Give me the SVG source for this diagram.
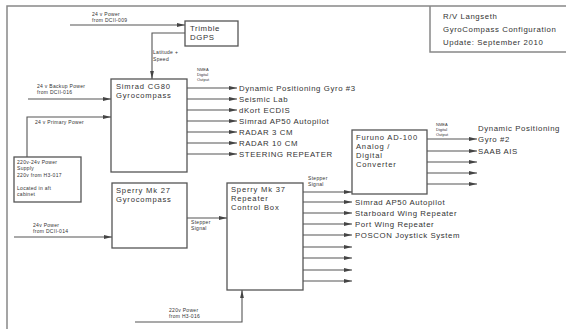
<svg xmlns="http://www.w3.org/2000/svg" width="566" height="329" viewBox="0 0 566 329">
<defs>
<marker id="ah" viewBox="0 0 8 5" refX="8" refY="2.5" markerWidth="8" markerHeight="5" orient="auto" markerUnits="userSpaceOnUse"><path d="M0,0.6 L8,2.5 L0,4.4 z" fill="#444"/></marker>
<style>
.box{fill:#fff;stroke:#555;stroke-width:1.3}
.ln{fill:none;stroke:#555;stroke-width:1.1}
.ar{fill:none;stroke:#555;stroke-width:1.1;marker-end:url(#ah)}
text{font-family:"Liberation Sans",Arial,sans-serif;fill:#333}
.t{font-size:7.6px;letter-spacing:0.8px}
.o{font-size:7.8px;letter-spacing:0.6px}
.s{font-size:5px;letter-spacing:0.3px}
.xs{font-size:4px}
.frame{fill:none;stroke:#888;stroke-width:1.5}
</style>
</defs>
<rect width="566" height="329" fill="#fff"/>
<g id="frame">
<path class="frame" d="M7,329 V6 H566"/>
</g>
<g id="title">
<path class="frame" d="M430,6 V52 H566"/>
<text class="o" x="443" y="19">R/V Langseth</text>
<text class="o" x="443" y="32">GyroCompass Configuration</text>
<text class="o" x="443" y="45">Update: September 2010</text>
</g>
<g id="connectors">
<path class="ar" d="M70,25 H185"/>
<path class="ar" d="M185,33 H152 V79"/>
<path class="ar" d="M28,99 H111"/>
<path class="ar" d="M27,157 V117 H111"/>
<path class="ar" d="M187,88 H237"/>
<path class="ar" d="M187,99 H237"/>
<path class="ar" d="M187,110 H237"/>
<path class="ar" d="M187,121 H237"/>
<path class="ar" d="M187,132 H237"/>
<path class="ar" d="M187,143 H237"/>
<path class="ar" d="M187,154 H237"/>
<path class="ar" d="M14,237 H112"/>
<path class="ar" d="M187,218 H227"/>
<path class="ar" d="M303,192 H352"/>
<path class="ar" d="M303,202 H352"/>
<path class="ar" d="M303,213 H352"/>
<path class="ar" d="M303,224 H352"/>
<path class="ar" d="M303,235 H352"/>
<path class="ar" d="M303,247 H352"/>
<path class="ar" d="M303,258 H352"/>
<path class="ar" d="M303,270 H352"/>
<path class="ar" d="M303,281 H352"/>
<path class="ar" d="M427,139 H477"/>
<path class="ar" d="M427,151 H477"/>
<path class="ar" d="M427,162 H477"/>
<path class="ar" d="M427,173 H477"/>
<path class="ar" d="M427,184 H477"/>
<path class="ar" d="M135,322 H242 V290"/>
<text class="s" x="92" y="16">24 v Power</text>
<text class="s" x="92" y="22">from DCII-009</text>
<text class="s" x="153" y="54">Latitude +</text>
<text class="s" x="153" y="61">Speed</text>
<text class="s" x="37" y="88">24 v Backup Power</text>
<text class="s" x="37" y="94">from DCII-016</text>
<text class="s" x="35" y="124">24 v Primary Power</text>
<text class="xs" x="197" y="71">NMEA</text>
<text class="xs" x="197" y="76">Digital</text>
<text class="xs" x="197" y="81">Output</text>
<text class="o" x="239" y="91">Dynamic Positioning Gyro #3</text>
<text class="o" x="239" y="102">Seismic Lab</text>
<text class="o" x="239" y="113">dKort ECDIS</text>
<text class="o" x="239" y="124">Simrad AP50 Autopilot</text>
<text class="o" x="239" y="135">RADAR 3 CM</text>
<text class="o" x="239" y="146">RADAR 10 CM</text>
<text class="o" x="239" y="157">STEERING REPEATER</text>
<text class="s" x="33" y="227">24v Power</text>
<text class="s" x="33" y="233">from DCII-014</text>
<text class="s" x="191" y="224">Stepper</text>
<text class="s" x="191" y="230">Signal</text>
<text class="s" x="308" y="180">Stepper</text>
<text class="s" x="308" y="186">Signal</text>
<text class="o" x="355" y="205">Simrad AP50 Autopilot</text>
<text class="o" x="355" y="216">Starboard Wing Repeater</text>
<text class="o" x="355" y="227">Port Wing Repeater</text>
<text class="o" x="355" y="238">POSCON Joystick System</text>
<text class="xs" x="436" y="126">NMEA</text>
<text class="xs" x="436" y="131">Digital</text>
<text class="xs" x="436" y="136">Output</text>
<text class="o" x="478" y="131">Dynamic Positioning</text>
<text class="o" x="478" y="142">Gyro #2</text>
<text class="o" x="478" y="154">SAAB AIS</text>
<text class="s" x="169" y="312">220v Power</text>
<text class="s" x="169" y="318">from H3-016</text>
</g>
<g id="trimble">
<rect class="box" x="185" y="21" width="53" height="25"/>
<text class="o" x="190" y="31">Trimble</text>
<text class="o" x="190" y="40">DGPS</text>
</g>
<g id="cg80">
<rect class="box" x="111" y="79" width="76" height="93"/>
<text class="t" x="116" y="89">Simrad CG80</text>
<text class="t" x="116" y="98">Gyrocompass</text>
</g>
<g id="psu">
<rect class="box" x="14" y="157" width="67" height="45"/>
<text class="s" x="17" y="164">220v-24v Power</text>
<text class="s" x="17" y="170">Supply</text>
<text class="s" x="17" y="177">220v from H3-017</text>
<text class="s" x="17" y="190">Located in aft</text>
<text class="s" x="17" y="196">cabinet</text>
</g>
<g id="mk27">
<rect class="box" x="112" y="183" width="75" height="65"/>
<text class="t" x="116" y="193">Sperry Mk 27</text>
<text class="t" x="116" y="202">Gyrocompass</text>
</g>
<g id="mk37">
<rect class="box" x="227" y="183" width="76" height="107"/>
<text class="t" x="231" y="192">Sperry Mk 37</text>
<text class="t" x="231" y="201">Repeater</text>
<text class="t" x="231" y="210">Control Box</text>
</g>
<g id="furuno">
<rect class="box" x="352" y="130" width="75" height="64"/>
<text class="t" x="356" y="140">Furuno AD-100</text>
<text class="t" x="356" y="149">Analog /</text>
<text class="t" x="356" y="158">Digital</text>
<text class="t" x="356" y="167">Converter</text>
</g>
</svg>
